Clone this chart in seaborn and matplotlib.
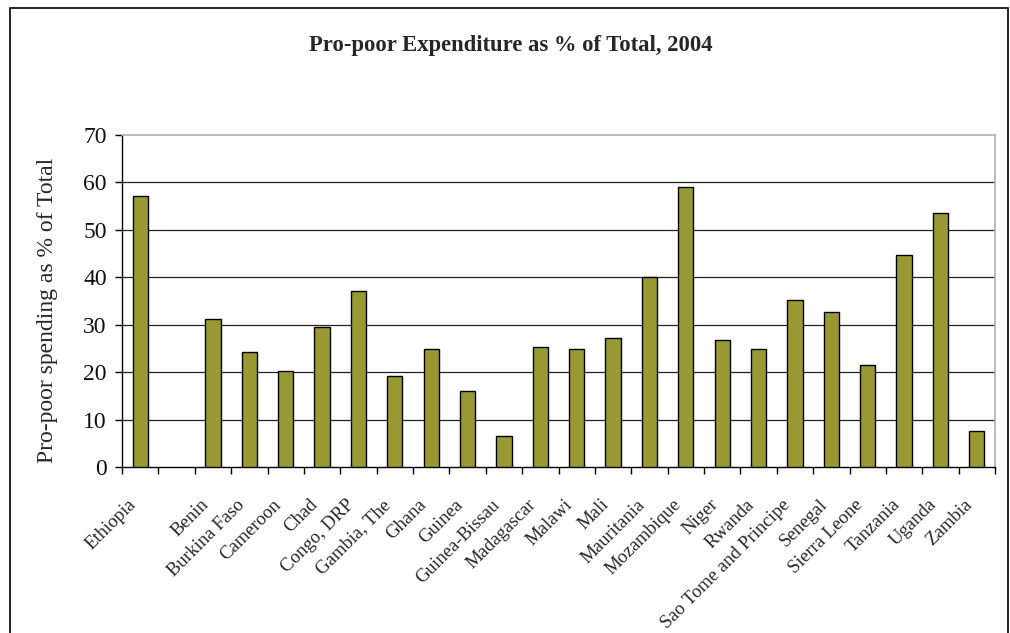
import matplotlib
matplotlib.use("Agg")
import matplotlib.pyplot as plt
from matplotlib.patches import Rectangle
from matplotlib.transforms import ScaledTranslation
import numpy as np
import pandas as pd
import seaborn as sns

countries = ["Ethiopia", "Benin", "Burkina Faso", "Cameroon", "Chad", "Congo, DRP",
             "Gambia, The", "Ghana", "Guinea", "Guinea-Bissau", "Madagascar", "Malawi",
             "Mali", "Mauritania", "Mozambique", "Niger", "Rwanda",
             "Sao Tome and Principe", "Senegal", "Sierra Leone", "Tanzania", "Uganda", "Zambia"]
values = [57.1, 31.1, 24.2, 20.2, 29.6, 37.2,
          19.2, 24.9, 16.0, 6.6, 25.2, 24.9,
          27.1, 40.1, 59.0, 26.8, 24.9,
          35.3, 32.7, 21.6, 44.8, 53.6, 7.5]
blank_slot = " "
order = [countries[0], blank_slot] + countries[1:]
yticks = [0, 10, 20, 30, 40, 50, 60, 70]

title = "Pro-poor Expenditure as % of Total, 2004"
ylabel = "Pro-poor spending as % of Total"

df = pd.DataFrame({"country": countries, "value": values})

sns.set_theme(style="white")
plt.rcParams["font.family"] = ["Liberation Serif", "DejaVu Serif"]

fig = plt.figure(figsize=(10.1, 6.33), dpi=100)
ax = fig.add_axes([122/1010, 1 - 467/633, (995-122)/1010, (467-135)/633])

sns.barplot(data=df, x="country", y="value", order=order, ax=ax,
            color="#999933", saturation=1, width=0.42,
            edgecolor="black", linewidth=1.0, zorder=3)

ax.set_ylim(0, 70)
ax.set_xlim(-0.5, len(order) - 0.5)
ax.set_yticks(yticks)
ax.set_yticklabels([str(v) for v in yticks], fontsize=17, color="#111111")
ax.yaxis.grid(True, color="#222222", linewidth=0.9, zorder=0)
ax.set_axisbelow(True)
ax.yaxis.get_gridlines()[-1].set_visible(False)
ax.yaxis.get_gridlines()[0].set_visible(False)

ax.set_xticks(range(len(order)))
ax.set_xticklabels([("" if c == blank_slot else c) for c in order],
                   rotation=45, ha="right", rotation_mode="anchor", fontsize=13.5)
ax.tick_params(axis="x", which="major", length=0, pad=21)
offset = ScaledTranslation(-13/100, 0, fig.dpi_scale_trans)
for lbl in ax.get_xticklabels():
    lbl.set_transform(lbl.get_transform() + offset)
ax.set_xticks(np.arange(-0.5, len(order)), minor=True)
ax.tick_params(axis="x", which="minor", length=5, width=1, direction="out", color="black", bottom=True)
ax.tick_params(axis="y", which="major", length=5, width=1, direction="out", color="black", left=True, pad=6)

ax.set_xlabel("")
ax.set_ylabel(ylabel, fontsize=17)
ax.yaxis.set_label_coords((58-122)/873, (467-310)/332)

for s in ["left", "bottom"]:
    ax.spines[s].set_color("black")
    ax.spines[s].set_linewidth(1.0)
for s in ["top", "right"]:
    ax.spines[s].set_color("#b0b0b0")
    ax.spines[s].set_linewidth(1.2)

fig.text(511/1010, 1 - 45/633, title, ha="center", va="center",
         fontsize=16.3, fontweight="bold")

fig.patches.append(Rectangle((10/1010, -0.1), (1008-10)/1010, 1.1 - 8/633,
                             transform=fig.transFigure, fill=False,
                             edgecolor="black", linewidth=1.2))

fig.savefig("out.png", dpi=100)
